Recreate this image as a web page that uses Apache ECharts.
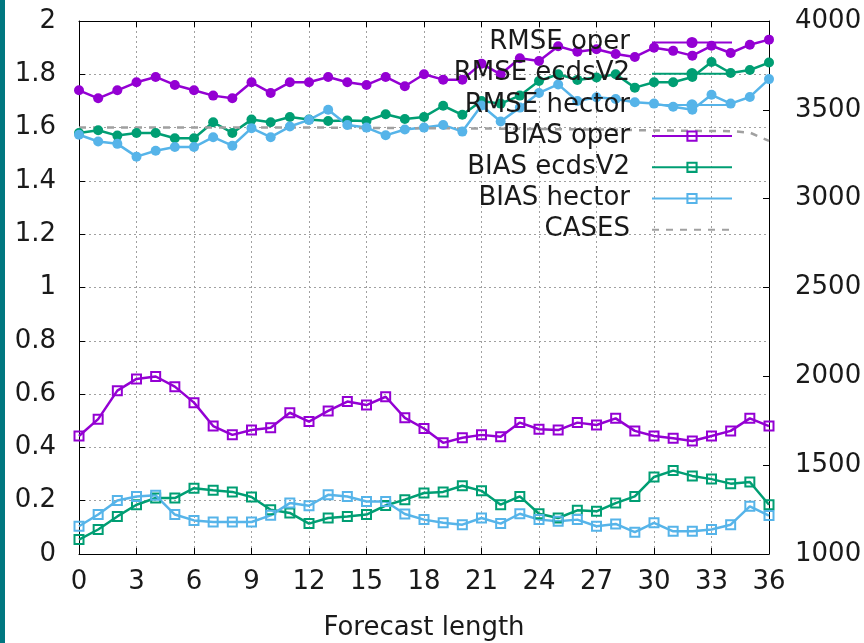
<!DOCTYPE html>
<html>
<head>
<meta charset="utf-8">
<script src="https://cdn.jsdelivr.net/npm/echarts@6/dist/echarts.min.js"></script>
<style>
html,body{margin:0;padding:0;background:#fff;}
#chart{width:864px;height:643px;}
</style>
</head>
<body>
<div id="chart"></div>
<script>
const steps = [0,1,2,3,4,5,6,7,8,9,10,11,12,13,14,15,16,17,18,19,20,21,22,23,24,25,26,27,28,29,30,31,32,33,34,35,36];
const rmseOper = [1.74,1.71,1.74,1.77,1.79,1.76,1.74,1.72,1.71,1.77,1.73,1.77,1.77,1.79,1.77,1.76,1.79,1.755,1.80,1.78,1.78,1.84,1.80,1.86,1.85,1.905,1.885,1.894,1.876,1.865,1.90,1.888,1.87,1.907,1.88,1.911,1.93];
const rmseEcds = [1.58,1.59,1.57,1.58,1.58,1.56,1.56,1.62,1.58,1.63,1.62,1.64,1.63,1.625,1.627,1.625,1.65,1.632,1.64,1.682,1.648,1.70,1.69,1.72,1.775,1.80,1.779,1.788,1.80,1.75,1.77,1.77,1.79,1.846,1.805,1.816,1.844];
const rmseHector = [1.573,1.548,1.539,1.491,1.513,1.527,1.527,1.564,1.532,1.598,1.564,1.604,1.629,1.667,1.61,1.60,1.571,1.593,1.60,1.61,1.585,1.683,1.623,1.675,1.73,1.762,1.70,1.714,1.707,1.695,1.69,1.678,1.667,1.723,1.69,1.715,1.782];
const biasOper = [0.443,0.506,0.613,0.657,0.666,0.628,0.568,0.48,0.447,0.465,0.474,0.53,0.497,0.537,0.572,0.559,0.59,0.511,0.471,0.417,0.436,0.447,0.44,0.493,0.468,0.465,0.493,0.484,0.509,0.462,0.443,0.434,0.424,0.443,0.462,0.509,0.48];
const biasEcds = [0.054,0.092,0.141,0.185,0.21,0.21,0.247,0.239,0.233,0.214,0.166,0.154,0.114,0.135,0.141,0.148,0.182,0.204,0.229,0.233,0.256,0.237,0.185,0.216,0.151,0.135,0.164,0.16,0.191,0.216,0.289,0.313,0.293,0.281,0.264,0.27,0.185];
const biasHector = [0.104,0.148,0.201,0.216,0.22,0.148,0.126,0.12,0.12,0.12,0.145,0.191,0.181,0.222,0.216,0.197,0.197,0.15,0.129,0.117,0.11,0.135,0.114,0.151,0.129,0.123,0.129,0.104,0.113,0.082,0.117,0.085,0.085,0.092,0.11,0.179,0.144];
const cases = [3400,3400,3400,3400,3400,3400,3400,3400,3400,3400,3400,3400,3400,3400,3398,3398,3398,3396,3396,3396,3395,3395,3394,3393,3392,3391,3390,3389,3388,3386,3384,3383,3382,3381,3380,3372,3325];
const leftTicks = {min: 0, max: 2, interval: 0.2};
const rightTicks = {min: 1000, max: 4000, interval: 500};
const xTicks = {min: 0, max: 36, interval: 3};
const names = ['RMSE oper','RMSE ecdsV2','RMSE hector','BIAS oper','BIAS ecdsV2','BIAS hector','CASES'];
const colors = ['#9400d3','#009e73','#56b4e9'];

const pair = arr => steps.map((s, i) => [s, arr[i]]);
const FONT = 'DejaVu Sans';
const ring = 'path://M0,0H11V11H0Z M2,2V9H9V2Z';
const gridDot = {color: '#a0a0a0', width: 1, type: [2, 3]};

function lineSeries(name, data, color, sym) {
  return {
    name, type: 'line', data: pair(data), yAxisIndex: 0, xAxisIndex: 0,
    symbol: sym, symbolSize: sym === 'circle' ? 10 : 11, symbolKeepAspect: true,
    showSymbol: true, showAllSymbol: true,
    lineStyle: {color, width: 2.5},
    itemStyle: {color, borderWidth: 0},
    emphasis: {disabled: true}, animation: false
  };
}

const chart = echarts.init(document.getElementById('chart'), null, {renderer: 'canvas'});
chart.setOption({
  animation: false,
  backgroundColor: '#fff',
  textStyle: {fontFamily: FONT},
  graphic: [{type: 'rect', left: 0, top: 0, shape: {width: 5, height: 643}, style: {fill: '#007780'}}],
  grid: {left: 79, right: 95, top: 21, bottom: 89, containLabel: false, outerBoundsMode: 'none'},
  legend: {
    orient: 'vertical', align: 'right', right: 131, top: 29.5, padding: 0,
    itemWidth: 80, itemHeight: 14, itemGap: 5.2,
    data: names.map(n => n === 'CASES' ? {name: n, itemStyle: {opacity: 0}} : n),
    textStyle: {fontFamily: FONT, fontSize: 26, color: '#1a1a1a', lineHeight: 26, padding: [0, 17, 0, 0]},
    selectedMode: false
  },
  xAxis: [{
    type: 'value', position: 'bottom', min: xTicks.min, max: xTicks.max, interval: xTicks.interval,
    name: 'Forecast length', nameLocation: 'middle', nameGap: 61,
    nameTextStyle: {fontFamily: FONT, fontSize: 26, color: '#1a1a1a'},
    axisLine: {show: true, onZero: false, lineStyle: {color: '#000', width: 1}},
    axisTick: {show: true, inside: true, length: 6, lineStyle: {color: '#000'}},
    axisLabel: {fontFamily: FONT, fontSize: 26, color: '#1a1a1a', margin: 15},
    splitLine: {show: true, lineStyle: gridDot}
  }, {
    type: 'value', position: 'top', min: xTicks.min, max: xTicks.max, interval: xTicks.interval,
    axisLine: {show: true, onZero: false, lineStyle: {color: '#000', width: 1}},
    axisTick: {show: true, inside: true, length: 6, lineStyle: {color: '#000'}},
    axisLabel: {show: false}, splitLine: {show: false}
  }],
  yAxis: [{
    type: 'value', position: 'left', min: leftTicks.min, max: leftTicks.max, interval: leftTicks.interval,
    axisLine: {show: true, onZero: false, lineStyle: {color: '#000', width: 1}},
    axisTick: {show: true, inside: true, length: 6, lineStyle: {color: '#000'}},
    axisLabel: {fontFamily: FONT, fontSize: 26, color: '#1a1a1a', margin: 23},
    splitLine: {show: true, lineStyle: gridDot}
  }, {
    type: 'value', position: 'right', min: rightTicks.min, max: rightTicks.max, interval: rightTicks.interval,
    axisLine: {show: true, onZero: false, lineStyle: {color: '#000', width: 1}},
    axisTick: {show: true, inside: true, length: 6, lineStyle: {color: '#000'}},
    axisLabel: {fontFamily: FONT, fontSize: 26, color: '#1a1a1a', margin: 26, formatter: v => String(v)},
    splitLine: {show: false}
  }],
  series: [
    lineSeries(names[0], rmseOper, colors[0], 'circle'),
    lineSeries(names[1], rmseEcds, colors[1], 'circle'),
    lineSeries(names[2], rmseHector, colors[2], 'circle'),
    lineSeries(names[3], biasOper, colors[0], ring),
    lineSeries(names[4], biasEcds, colors[1], ring),
    lineSeries(names[5], biasHector, colors[2], ring),
    {
      name: names[6], type: 'line', data: pair(cases), yAxisIndex: 1, symbol: 'none',
      lineStyle: {color: '#a0a0a0', width: 2.5, type: [7, 7]},
      itemStyle: {color: '#a0a0a0'},
      emphasis: {disabled: true}, animation: false
    }
  ]
});
</script>
</body>
</html>
